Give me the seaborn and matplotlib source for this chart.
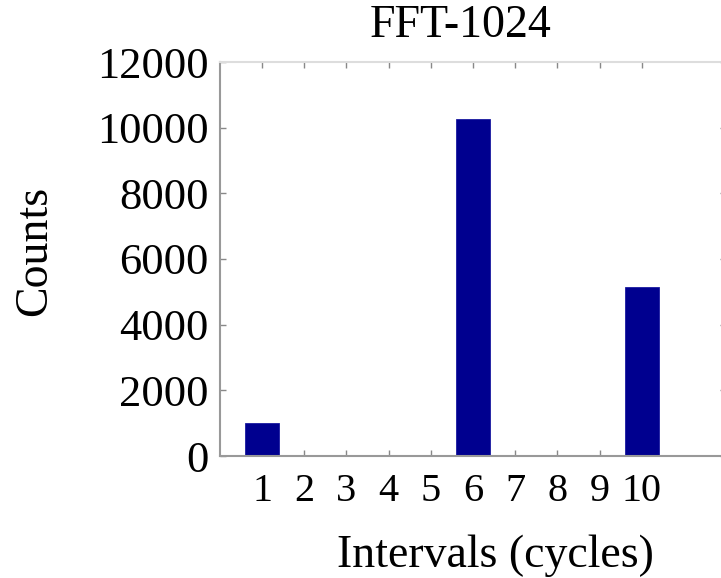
import matplotlib
matplotlib.use("Agg")
import matplotlib.pyplot as plt
import seaborn as sns
import pandas as pd

# Histogram of interval lengths for the FFT-1024 kernel
intervals = ["1", "2", "3", "4", "5", "6", "7", "8", "9", "10"]
counts = [1000, 0, 0, 0, 0, 10250, 0, 0, 0, 5150]
y_ticks = [0, 2000, 4000, 6000, 8000, 10000, 12000]

sns.set_theme(style="white")
plt.rcParams["font.family"] = ["Liberation Serif", "DejaVu Serif"]
plt.rcParams["text.color"] = "black"
plt.rcParams["xtick.labelcolor"] = "black"
plt.rcParams["ytick.labelcolor"] = "black"

df = pd.DataFrame({"interval": intervals, "count": counts})

W, H = 721, 578
fig = plt.figure(figsize=(W / 100, H / 100), dpi=100)
ax = fig.add_axes([220 / W, (H - 456) / H, (726 - 220) / W, (456 - 62) / H])

sns.barplot(data=df, x="interval", y="count", order=intervals,
            color="#00008F", saturation=1, width=0.8,
            edgecolor="#1a1aa0", linewidth=0.6, ax=ax)

ax.set_xlim(-1, 11)
ax.set_ylim(0, 12000)
ax.set_yticks(y_ticks)
ax.set_yticklabels([str(v) for v in y_ticks])
ax.set_xlabel("")
ax.set_ylabel("")

for side in ["left", "bottom"]:
    ax.spines[side].set_color("#999999")
    ax.spines[side].set_linewidth(1.5)
for side in ["top", "right"]:
    ax.spines[side].set_color("#dddddd")
    ax.spines[side].set_linewidth(1.5)
    ax.spines[side].set_visible(True)

ax.tick_params(axis="both", direction="in", length=4, width=1,
               color="#888888", labelcolor="black", top=True, right=True,
               bottom=True, left=True)
ax.tick_params(axis="y", labelsize=32, pad=8)
ax.tick_params(axis="x", labelsize=29, pad=12)

fig.text(461 / W, 1 - 26 / H, "FFT-1024", ha="center", va="center",
         fontsize=33, color="black")
fig.text(35 / W, 1 - 251 / H, "Counts", ha="center", va="center",
         rotation=90, fontsize=33, color="black")
fig.text(495 / W, 1 - 556 / H, "Intervals (cycles)", ha="center",
         va="center", fontsize=33, color="black")

fig.savefig("out.png", dpi=100)
